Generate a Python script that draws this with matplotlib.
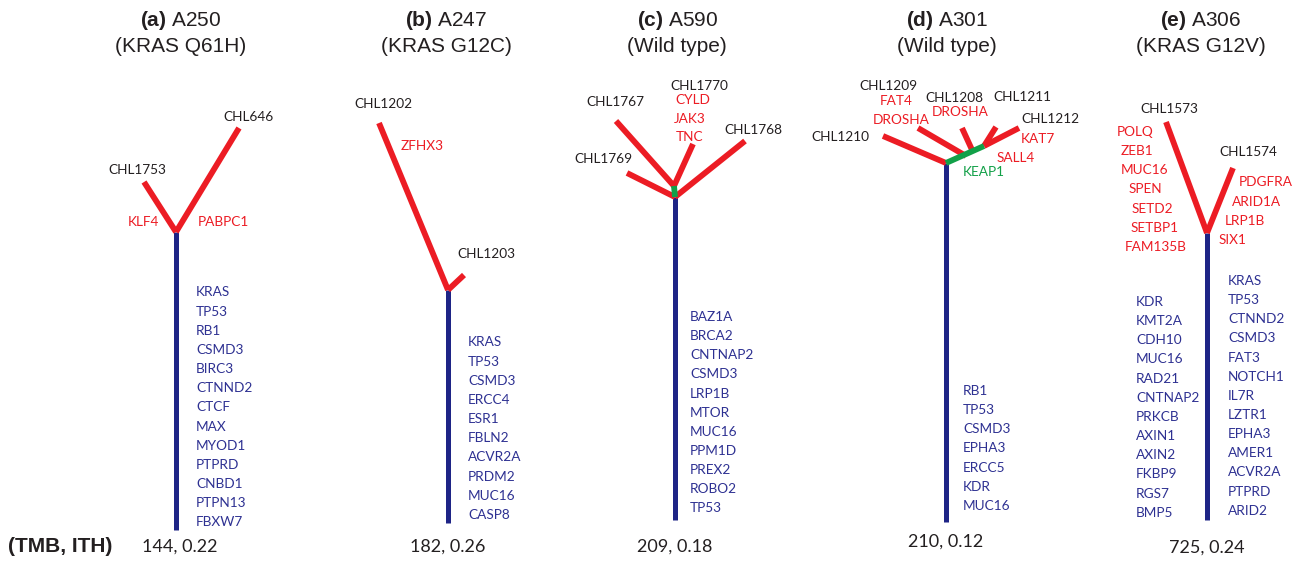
import matplotlib
matplotlib.use("Agg")
import matplotlib.pyplot as plt

plt.rcParams['mathtext.fontset'] = 'custom'
plt.rcParams['mathtext.rm'] = 'Liberation Sans'
plt.rcParams['mathtext.bf'] = 'Liberation Sans:bold'

RED = '#ec1c24'
NAVY = '#1e2486'
GENE_BLUE = '#2e3192'
GREEN = '#12a048'
DARK = '#231f20'

# ---- panel titles and summary values ----
panel_ids = ['(a)', '(b)', '(c)', '(d)', '(e)']
patients = ['A250', 'A247', 'A590', 'A301', 'A306']
kras_status = ['(KRAS Q61H)', '(KRAS G12C)', '(Wild type)', '(Wild type)', '(KRAS G12V)']
tmb = [144, 182, 209, 210, 725]
ith = [0.22, 0.26, 0.18, 0.12, 0.24]

# ---- tree branches: (x0, y0, x1, y1, kind) ----
branches_a = [(176, 232, 176, 530, 'trunk'),
              (176, 232, 144, 182, 'private'),
              (176, 232, 239, 128, 'private')]
branches_b = [(448, 290, 448, 523, 'trunk'),
              (448, 290, 379, 123, 'private'),
              (448, 290, 464, 275, 'private')]
branches_c = [(675, 197, 675, 520, 'trunk'),
              (675, 197, 674, 186, 'shared'),
              (675, 197, 627, 173, 'private'),
              (675, 197, 745, 141, 'private'),
              (674, 186, 616, 121, 'private'),
              (674, 186, 693, 144, 'private')]
branches_d = [(946, 163, 946, 522, 'trunk'),
              (946, 163, 984, 146, 'shared'),
              (946, 163, 883, 136, 'private'),
              (966, 156, 918, 128, 'private'),
              (973, 152, 962, 128, 'private'),
              (984, 146, 996, 127, 'private'),
              (984, 146, 1019, 128, 'private')]
branches_e = [(1207, 233, 1207, 520, 'trunk'),
              (1207, 233, 1166, 122, 'private'),
              (1207, 233, 1233, 168, 'private')]

# ---- sample (leaf) names ----
samples_a = [('CHL1753', 137, 170), ('CHL646', 248, 117)]
samples_b = [('CHL1202', 383, 104), ('CHL1203', 486, 254)]
samples_c = [('CHL1767', 615, 102), ('CHL1770', 699, 86),
             ('CHL1768', 753, 130), ('CHL1769', 603, 159)]
samples_d = [('CHL1209', 888, 86), ('CHL1208', 954, 98), ('CHL1211', 1022, 97),
             ('CHL1212', 1050, 119), ('CHL1210', 840, 137)]
samples_e = [('CHL1573', 1169, 109), ('CHL1574', 1248, 152)]

# ---- branch-specific mutations (red) ----
private_a = [('KLF4', 143, 222), ('PABPC1', 223, 222)]
private_b = [('ZFHX3', 422, 146)]
private_c = [('CYLD', 693, 100), ('JAK3', 690, 119), ('TNC', 690, 137)]
private_d = [('FAT4', 896, 101), ('DROSHA', 901, 120), ('DROSHA', 960, 112),
             ('KAT7', 1038, 139), ('SALL4', 1016, 158)]
private_e = [('POLQ', 1135, 132), ('ZEB1', 1137, 151), ('MUC16', 1145, 170),
             ('SPEN', 1145, 189), ('SETD2', 1152, 209), ('SETBP1', 1155, 228),
             ('FAM135B', 1156, 247),
             ('PDGFRA', 1266, 182), ('ARID1A', 1257, 202), ('LRP1B', 1245, 221),
             ('SIX1', 1232, 240)]

# ---- shared subclonal mutations (green) ----
shared_d = [('KEAP1', 984, 172)]

# ---- truncal mutations (blue) ----
trunk_a = ['KRAS', 'TP53', 'RB1', 'CSMD3', 'BIRC3', 'CTNND2', 'CTCF', 'MAX',
           'MYOD1', 'PTPRD', 'CNBD1', 'PTPN13', 'FBXW7']
trunk_b = ['KRAS', 'TP53', 'CSMD3', 'ERCC4', 'ESR1', 'FBLN2', 'ACVR2A', 'PRDM2',
           'MUC16', 'CASP8']
trunk_c = ['BAZ1A', 'BRCA2', 'CNTNAP2', 'CSMD3', 'LRP1B', 'MTOR', 'MUC16',
           'PPM1D', 'PREX2', 'ROBO2', 'TP53']
trunk_d = ['RB1', 'TP53', 'CSMD3', 'EPHA3', 'ERCC5', 'KDR', 'MUC16']
trunk_e_left = ['KDR', 'KMT2A', 'CDH10', 'MUC16', 'RAD21', 'CNTNAP2', 'PRKCB',
                'AXIN1', 'AXIN2', 'FKBP9', 'RGS7', 'BMP5']
trunk_e_right = ['KRAS', 'TP53', 'CTNND2', 'CSMD3', 'FAT3', 'NOTCH1', 'IL7R',
                 'LZTR1', 'EPHA3', 'AMER1', 'ACVR2A', 'PTPRD', 'ARID2']

panels = [
    dict(cx=181, branches=branches_a, samples=samples_a, private=private_a,
         shared=[], lists=[(196, 292.5, trunk_a)], nx=180, ny=547),
    dict(cx=446, branches=branches_b, samples=samples_b, private=private_b,
         shared=[], lists=[(468, 342.5, trunk_b)], nx=448, ny=547),
    dict(cx=677, branches=branches_c, samples=samples_c, private=private_c,
         shared=[], lists=[(690, 317, trunk_c)], nx=675, ny=547),
    dict(cx=947, branches=branches_d, samples=samples_d, private=private_d,
         shared=shared_d, lists=[(963, 391, trunk_d)], nx=946, ny=542),
    dict(cx=1201, branches=branches_e, samples=samples_e, private=private_e,
         shared=[], lists=[(1136, 302, trunk_e_left), (1228, 281, trunk_e_right)],
         nx=1207, ny=548),
]

ROW = 19.15
styles = {'trunk': (NAVY, 3.6), 'private': (RED, 4.2), 'shared': (GREEN, 4.2)}
LABEL_FONT = 'Lato'
LABEL_SIZE = 9.8

fig = plt.figure(figsize=(13.01, 5.62), dpi=100)
ax = fig.add_axes([0, 0, 1, 1])
ax.set_xlim(0, 1301)
ax.set_ylim(562, 0)
ax.axis('off')

for i, p in enumerate(panels):
    for x0, y0, x1, y1, kind in p['branches']:
        c, lw = styles[kind]
        ax.plot([x0, x1], [y0, y1], color=c, lw=lw, solid_capstyle='butt',
                solid_joinstyle='miter', zorder=2 if kind != 'shared' else 3)
    for name, x, y in p['samples']:
        ax.text(x, y, name, color=DARK, fontsize=LABEL_SIZE, family=LABEL_FONT,
                ha='center', va='center')
    for name, x, y in p['private']:
        ax.text(x, y, name, color=RED, fontsize=LABEL_SIZE, family=LABEL_FONT,
                ha='center', va='center')
    for name, x, y in p['shared']:
        ax.text(x, y, name, color=GREEN, fontsize=LABEL_SIZE, family=LABEL_FONT,
                ha='center', va='center')
    for x, y0, genes in p['lists']:
        for k, g in enumerate(genes):
            ax.text(x, y0 + k * ROW, g, color=GENE_BLUE, fontsize=LABEL_SIZE,
                    family=LABEL_FONT, ha='left', va='center')
    ax.text(p['cx'], 21, r'$\mathbf{%s}$ %s' % (panel_ids[i], patients[i]),
            fontsize=15, family='Liberation Sans', color=DARK,
            ha='center', va='center')
    ax.text(p['cx'], 47, kras_status[i], fontsize=15, family='Liberation Sans',
            color=DARK, ha='center', va='center')
    ax.text(p['nx'], p['ny'], f'{tmb[i]}, {ith[i]:.2f}', fontsize=13,
            family=LABEL_FONT, color=DARK, ha='center', va='center')

ax.text(8, 547, '(TMB, ITH)', fontsize=15, family='Liberation Sans',
        fontweight='bold', color=DARK, ha='left', va='center')

fig.savefig('out.png', dpi=100)
